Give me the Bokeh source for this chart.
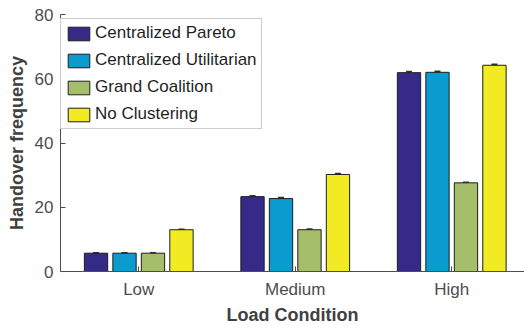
from bokeh.plotting import figure
from bokeh.models import ColumnDataSource, FixedTicker, Legend, LegendItem, Whisker, TeeHead, Range1d
from bokeh.transform import dodge
from bokeh.embed import file_html
from bokeh.resources import INLINE

conditions = ["Low", "Medium", "High"]
positions = [1, 2, 3]
series = ["Centralized Pareto", "Centralized Utilitarian", "Grand Coalition", "No Clustering"]
colors = ["#352A87", "#0C9BCF", "#A5BE6A", "#F2EA22"]

pareto = [5.7, 23.3, 61.9]
utilitarian = [5.7, 22.7, 62.0]
grand = [5.7, 13.0, 27.6]
no_clustering = [13.0, 30.2, 64.2]

pareto_err = [0.15, 0.3, 0.35]
utilitarian_err = [0.15, 0.3, 0.35]
grand_err = [0.15, 0.2, 0.2]
no_clustering_err = [0.15, 0.3, 0.3]

values = [pareto, utilitarian, grand, no_clustering]
errors = [pareto_err, utilitarian_err, grand_err, no_clustering_err]

FONT = "Liberation Sans"
BAR_W = 0.149
PITCH = 0.182

p = figure(width=524, height=327, x_range=Range1d(0.5, 3.465), y_range=Range1d(0, 80),
           output_backend="svg", toolbar_location=None,
           min_border_left=60, min_border_right=0, min_border_top=14, min_border_bottom=54)
p.outline_line_color = None
p.xgrid.visible = False
p.ygrid.visible = False
p.background_fill_color = "white"

items = []
for i, (name, col, vals, errs) in enumerate(zip(series, colors, values, errors)):
    src = ColumnDataSource(dict(x=positions, top=vals,
                                upper=[v + e for v, e in zip(vals, errs)],
                                lower=[v - e for v, e in zip(vals, errs)]))
    off = (i - 1.5) * PITCH
    r = p.vbar(x=dodge("x", off), top="top", width=BAR_W, source=src,
               fill_color=col, line_color="#1e1e1e", line_width=1)
    w = Whisker(base=dodge("x", off), upper="upper", lower="lower", source=src,
                line_color="#333333", line_width=1.2,
                upper_head=TeeHead(size=6, line_color="#333333", line_width=1.5),
                lower_head=TeeHead(size=6, line_color="#333333", line_width=1.5))
    p.add_layout(w)
    items.append(LegendItem(label=name, renderers=[r]))

legend = Legend(items=items, location=(0, 142), orientation="vertical",
                label_text_font=FONT, label_text_font_size="17px", label_text_color="#1f1f1f",
                glyph_width=27, glyph_height=17, label_height=17, label_standoff=3,
                spacing=7, padding=4, margin=0,
                border_line_color="#9a9a9a", border_line_width=1,
                background_fill_color="white", background_fill_alpha=1)
p.add_layout(legend)

# y axis
p.yaxis.ticker = FixedTicker(ticks=[0, 20, 40, 60, 80])
p.yaxis.major_tick_in = 5
p.yaxis.major_tick_out = 0
p.yaxis.minor_tick_in = 0
p.yaxis.minor_tick_out = 0
p.yaxis.axis_line_color = "#4d4d4d"
p.yaxis.major_tick_line_color = "#4d4d4d"
p.yaxis.major_label_text_font = FONT
p.yaxis.major_label_text_font_size = "17px"
p.yaxis.major_label_text_color = "#4d4d4d"
p.yaxis.major_label_standoff = 7
p.yaxis.axis_label = "Handover frequency"
p.yaxis.axis_label_text_font = FONT
p.yaxis.axis_label_text_font_size = "18px"
p.yaxis.axis_label_text_font_style = "bold"
p.yaxis.axis_label_text_color = "#404040"
p.yaxis.axis_label_standoff = 5

# x axis
p.xaxis.ticker = FixedTicker(ticks=positions)
p.xaxis.major_label_overrides = {pos: lab for pos, lab in zip(positions, conditions)}
p.xaxis.major_tick_in = 5
p.xaxis.major_tick_out = 0
p.xaxis.minor_tick_in = 0
p.xaxis.minor_tick_out = 0
p.xaxis.axis_line_color = "#4d4d4d"
p.xaxis.major_tick_line_color = "#4d4d4d"
p.xaxis.major_label_text_font = FONT
p.xaxis.major_label_text_font_size = "17px"
p.xaxis.major_label_text_color = "#4d4d4d"
p.xaxis.major_label_standoff = 8
p.xaxis.axis_label = "Load Condition"
p.xaxis.axis_label_text_font = FONT
p.xaxis.axis_label_text_font_size = "18px"
p.xaxis.axis_label_text_font_style = "bold"
p.xaxis.axis_label_text_color = "#404040"
p.xaxis.axis_label_standoff = 3

open("out.html", "w").write(file_html(p, INLINE))
